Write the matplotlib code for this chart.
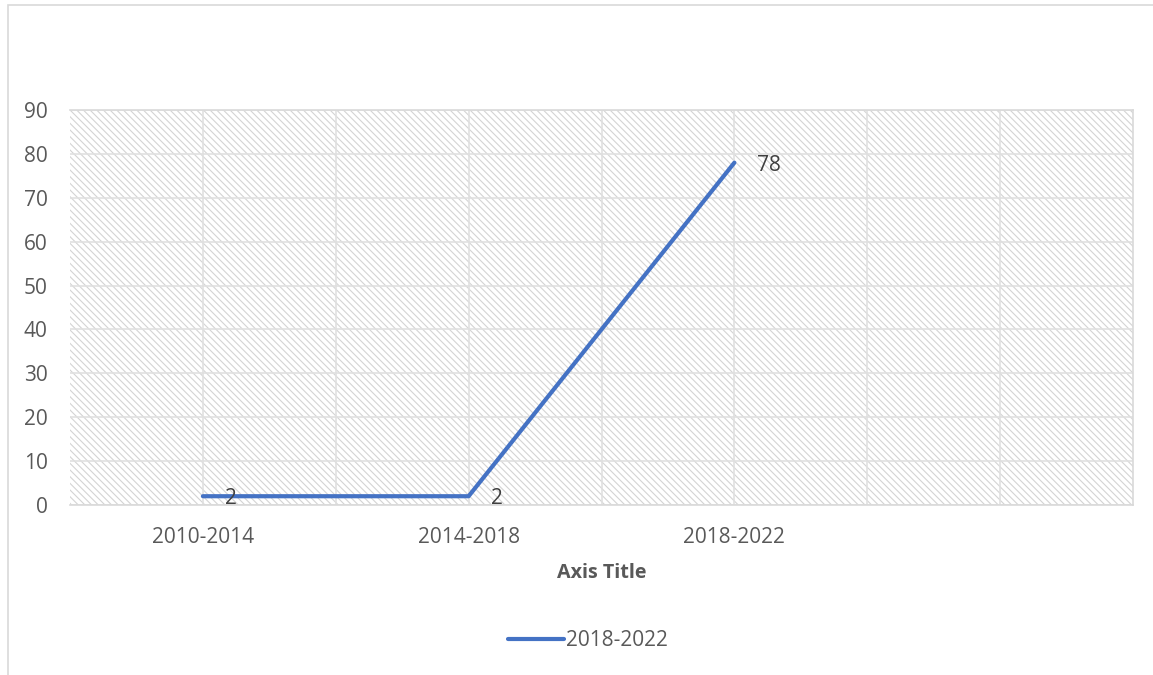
import matplotlib
matplotlib.use("Agg")
import matplotlib.pyplot as plt
from matplotlib.patches import Rectangle

categories = ["2010-2014", "2014-2018", "2018-2022"]
values = [2, 2, 78]
series_name = "2018-2022"
y_ticks = [0, 10, 20, 30, 40, 50, 60, 70, 80, 90]

W, H = 1153, 675
plt.rcParams['font.family'] = ['Open Sans', 'DejaVu Sans']
plt.rcParams['hatch.linewidth'] = 0.8
fig = plt.figure(figsize=(W/100, H/100), dpi=100)

# outer chart border
fig.patches.append(Rectangle((8/W, -0.2), 1.2, 1.2 - 5/H, transform=fig.transFigure,
                             fill=False, edgecolor='#d9d9d9', linewidth=1.2))

L, R, T, B = 70, 1133, 110, 505
ax = fig.add_axes([L/W, 1 - B/H, (R-L)/W, (B-T)/H])
ax.set_facecolor('white')
ax.add_patch(Rectangle((0, 0), 1, 1, transform=ax.transAxes, facecolor='white',
                       edgecolor='#d4d4d4', linewidth=0, hatch='\\\\\\\\\\',
                       zorder=0))
ax.set_xlim(-0.5, 3.5)
ax.set_ylim(0, 90)
ax.set_yticks(y_ticks)
x = list(range(len(categories)))
ax.set_xticks(x)
ax.set_xticklabels(categories)
for i in range(1, 8):
    ax.axvline(i * 0.5 - 0.5, color='#e0e0e0', linewidth=1.2, zorder=1)
ax.grid(True, axis='y', color='#e0e0e0', linewidth=1.2, zorder=1)
for s in ax.spines.values():
    s.set_color('#d9d9d9')
    s.set_linewidth(1.2)
ax.spines['left'].set_visible(False)
ax.tick_params(axis='both', which='both', length=0, labelsize=15, colors='#595959')
ax.tick_params(axis='y', pad=16)
ax.tick_params(axis='x', pad=16)

ax.plot(x, values, color='#4472C4', linewidth=3, solid_capstyle='round', zorder=3,
        label=series_name)
for xi, v in zip(x, values):
    ax.annotate(str(v), (xi, v), xytext=(16, -2), textcoords='offset points',
                ha='left', va='center', fontsize=15, color='#404040', zorder=4)

fig.text((L+R)/2/W, 1 - 573/H, "Axis Title", ha='center', va='center',
         fontsize=14.2, fontweight='bold', color='#595959')
leg = fig.legend(loc='center', bbox_to_anchor=(588/W, 1 - 641/H), frameon=False,
                 fontsize=15, handlelength=2.7, handletextpad=0.1, labelcolor='#595959')

fig.savefig("out.png", dpi=100)
